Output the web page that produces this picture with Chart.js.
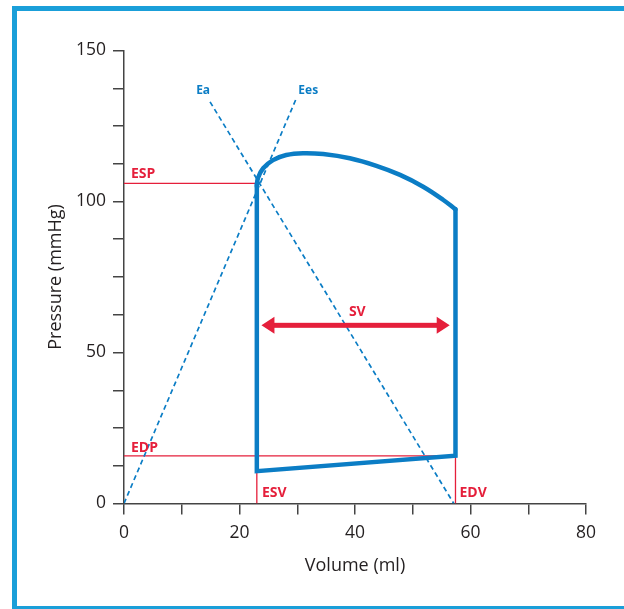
<!DOCTYPE html>
<html>
<head>
<meta charset="utf-8">
<script src="https://cdn.jsdelivr.net/npm/chart.js@4.4.1/dist/chart.umd.min.js"></script>
<style>
    html, body { margin: 0; padding: 0; background: #fff; }
    #wrap { position: relative; width: 624px; height: 609px; overflow: hidden; }
    #frame {
        position: absolute; left: 12px; top: 6px; width: 700px; height: 605px;
        box-sizing: border-box; border: 5px solid #1a9fd9; border-right: none;
        pointer-events: none;
    }
</style>
</head>
<body>
<div id="wrap">
    <canvas id="pv"></canvas>
    <div id="frame"></div>
</div>
<script>
// pressure-volume loop, values (ml / mmHg)
const esv = 23;
const edv = 57.4;
const esp = 106;
const edp = 15.8;

const loopVolume = [esv, esv, edv, edv];
const loopPressure = [esp, 10.7, edp, 97.4];

const ejectVolume = [23, 23.2, 24.1, 25.8, 28.1, 31, 34.5, 39.1, 43.7, 47.8, 51.8, 55.3, 57.4];
const ejectPressure = [105, 107.8, 111, 113.7, 115.4, 116, 115.7, 114.3, 111.8, 108.8, 104.9, 100.5, 97.4];

const eaVolume = [14.9, 57.1];
const eaPressure = [133, 0];
const eesVolume = [0, 29.8];
const eesPressure = [0, 134];

const svEnds = [23.8, 56.4];
const svPressure = 59;

const volumeTicks = [0, 20, 40, 60, 80];
const pressureTicks = [0, 50, 100, 150];

const notes = [
    { text: 'ESP', x: 1.2, y: 107.8, color: 'red', size: 14, align: 'left' },
    { text: 'EDP', x: 1.2, y: 17, color: 'red', size: 14, align: 'left' },
    { text: 'ESV', x: 23.9, y: 2.3, color: 'red', size: 14, align: 'left' },
    { text: 'EDV', x: 58.1, y: 2.3, color: 'red', size: 14, align: 'left' },
    { text: 'SV', x: 40.4, y: 62, color: 'red', size: 14, align: 'center' },
    { text: 'Ea', x: 13.7, y: 135.5, color: 'blue', size: 12, align: 'center' },
    { text: 'Ees', x: 31.9, y: 135.5, color: 'blue', size: 12, align: 'center' },
];

const RED = '#e51f3b';
const BLUE = '#0b7dc5';
const INK = '#231f20';
const FONT = "'Open Sans', sans-serif";

const pts = (xs, ys) => xs.map((x, i) => ({ x, y: ys[i] }));

const line = (data, color, width, extra = {}) => ({
    data,
    borderColor: color,
    borderWidth: width,
    pointRadius: 0,
    showLine: true,
    fill: false,
    tension: 0,
    ...extra,
});

const annotations = {
    id: 'annotations',
    afterDatasetsDraw(chart) {
        const { ctx, scales: { x, y } } = chart;
        ctx.save();

        // SV double arrow
        const x1 = x.getPixelForValue(svEnds[0]);
        const x2 = x.getPixelForValue(svEnds[1]);
        const yy = y.getPixelForValue(svPressure);
        const head = 13;
        const half = 8.5;
        ctx.fillStyle = RED;
        ctx.fillRect(x1 + head - 1, yy - 2.5, x2 - x1 - 2 * head + 2, 5);
        ctx.beginPath();
        ctx.moveTo(x1, yy);
        ctx.lineTo(x1 + head, yy - half);
        ctx.lineTo(x1 + head, yy + half);
        ctx.closePath();
        ctx.moveTo(x2, yy);
        ctx.lineTo(x2 - head, yy - half);
        ctx.lineTo(x2 - head, yy + half);
        ctx.closePath();
        ctx.fill();

        notes.forEach((n) => {
            ctx.font = `bold ${n.size}px ${FONT}`;
            ctx.fillStyle = n.color === 'red' ? RED : BLUE;
            ctx.textAlign = n.align;
            ctx.textBaseline = 'alphabetic';
            ctx.fillText(n.text, x.getPixelForValue(n.x), y.getPixelForValue(n.y));
        });
        ctx.restore();
    },
};

new Chart(document.getElementById('pv'), {
    type: 'scatter',
    data: {
        datasets: [
            line(pts(loopVolume, loopPressure), BLUE, 4.5, { borderJoinStyle: 'miter', borderCapStyle: 'round' }),
            line(pts(ejectVolume, ejectPressure), BLUE, 4.5, { tension: 0.4, borderCapStyle: 'round' }),
            line(pts(eaVolume, eaPressure), BLUE, 1.7, { borderDash: [5, 3.5] }),
            line(pts(eesVolume, eesPressure), BLUE, 1.7, { borderDash: [5, 3.5] }),
            line(pts([0, esv], [esp, esp]), RED, 1.3),
            line(pts([0, edv], [edp, edp]), RED, 1.3),
            line(pts([esv, esv], [0, 10.7]), RED, 1.3),
            line(pts([edv, edv], [0, edp]), RED, 1.3),
        ],
    },
    options: {
        responsive: true,
        maintainAspectRatio: false,
        animation: false,
        layout: { padding: { top: 50.5, right: 38, bottom: 0, left: 0 } },
        plugins: { legend: { display: false }, tooltip: { enabled: false } },
        scales: {
            x: {
                type: 'linear',
                min: 0,
                max: 80,
                afterFit: (scale) => { scale.height = 105.5; },
                border: { color: '#444', width: 1.5 },
                grid: { drawOnChartArea: false, drawTicks: true, tickLength: 11, color: '#444', lineWidth: 1.5 },
                ticks: {
                    stepSize: 10,
                    autoSkip: false,
                    maxRotation: 0,
                    padding: 8,
                    color: INK,
                    font: { family: FONT, size: 17.5 },
                    callback: (v) => (volumeTicks.includes(v) ? v : ''),
                },
                title: {
                    display: true,
                    text: 'Volume (ml)',
                    color: INK,
                    font: { family: FONT, size: 18 },
                    padding: { top: 0, bottom: 32 },
                },
            },
            y: {
                type: 'linear',
                min: 0,
                max: 150,
                afterFit: (scale) => { scale.width = 124; },
                border: { color: '#444', width: 1.5 },
                grid: { drawOnChartArea: false, drawTicks: true, tickLength: 11, color: '#444', lineWidth: 1.5 },
                ticks: {
                    stepSize: 12.5,
                    autoSkip: false,
                    padding: 7,
                    color: INK,
                    font: { family: FONT, size: 17.5 },
                    callback: (v) => (pressureTicks.includes(v) ? v : ''),
                },
                title: {
                    display: true,
                    text: 'Pressure (mmHg)',
                    color: INK,
                    font: { family: FONT, size: 18 },
                    padding: { top: 45, bottom: 0 },
                },
            },
        },
    },
    plugins: [annotations],
});
</script>
</body>
</html>
